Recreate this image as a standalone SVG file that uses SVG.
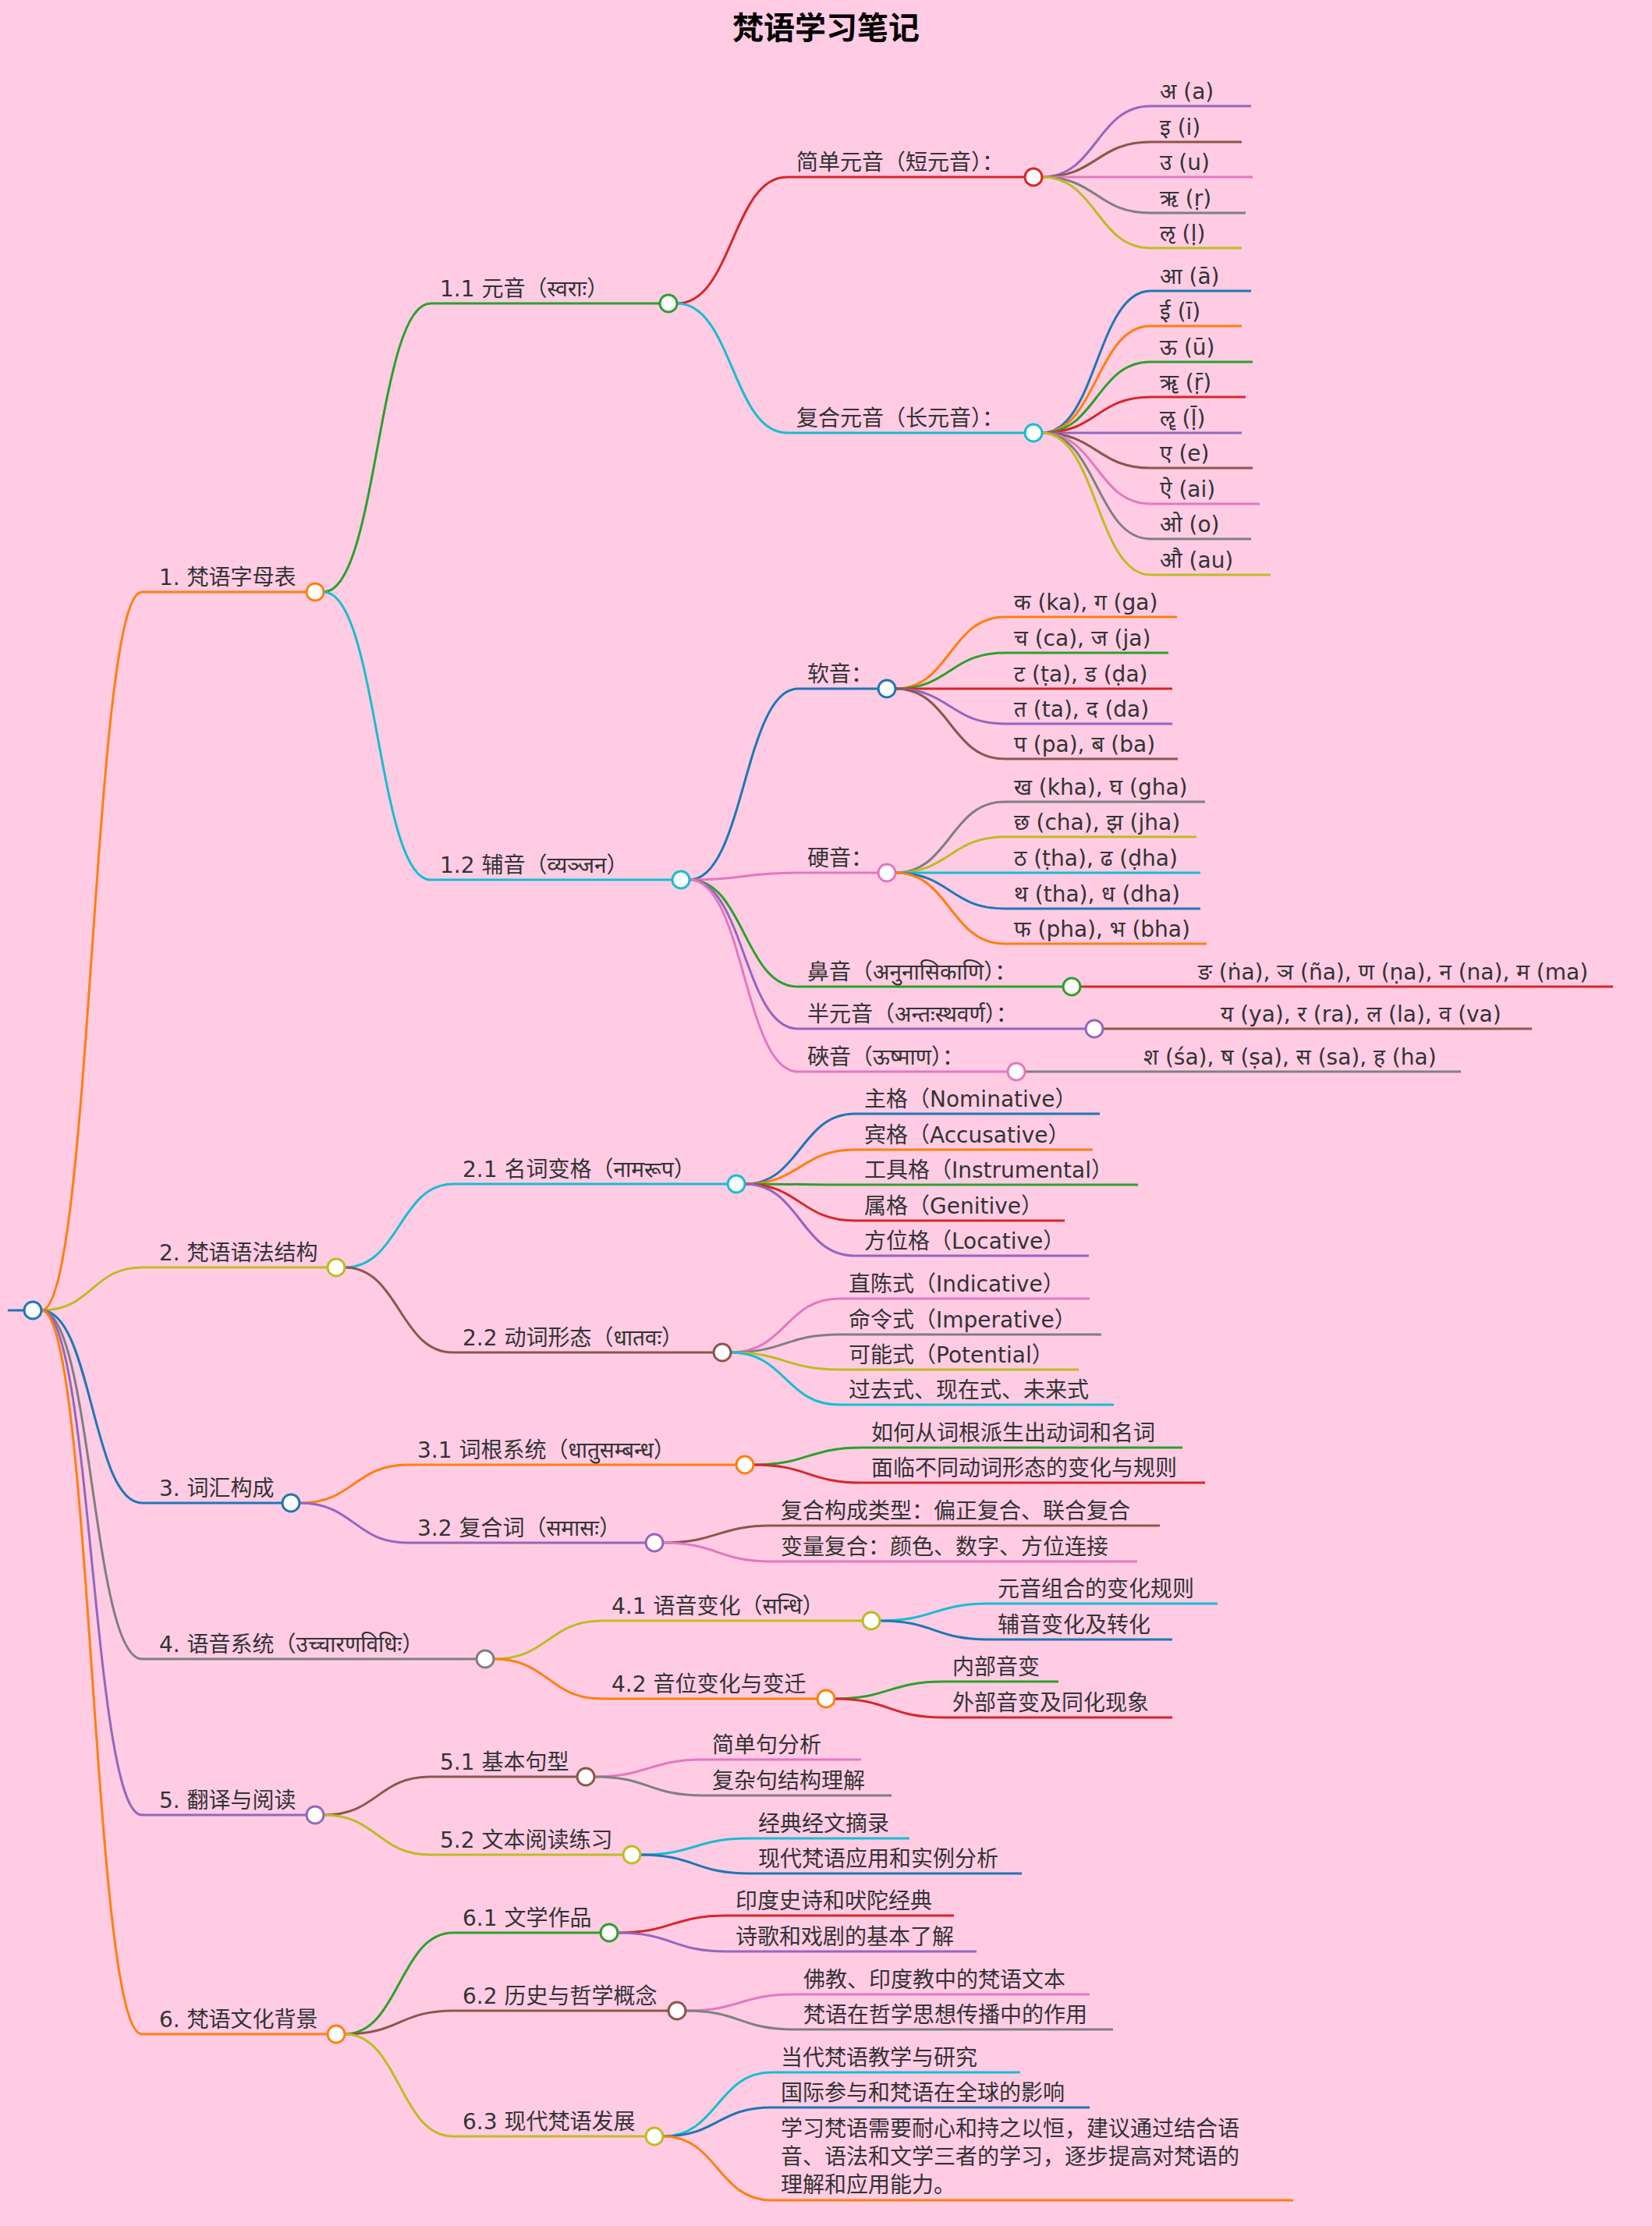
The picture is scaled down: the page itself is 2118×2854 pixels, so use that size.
<svg xmlns="http://www.w3.org/2000/svg" width="2118" height="2854" viewBox="0 0 2118 2854">
<style>
text{font-family:"DejaVu Sans","Noto Sans CJK SC","Noto Sans",sans-serif;font-size:28px;fill:#333}
.t{font-size:40px;font-weight:bold;fill:#000}
path{fill:none;stroke-width:3}
circle{fill:#fff;stroke-width:3}
.blue{stroke:#1f77b4}.orange{stroke:#ff7f0e}.green{stroke:#2ca02c}.red{stroke:#d62728}.purple{stroke:#9467bd}.brown{stroke:#8c564b}.pink{stroke:#e377c2}.grey{stroke:#7f7f7f}.olive{stroke:#bcbd22}.cyan{stroke:#17becf}
</style>
<rect width="2118" height="2854" fill="#ffcce4"/>
<text class="t" x="1059" y="50" text-anchor="middle">梵语学习笔记</text>
<g id="connectors">
<path class="blue" d="M10 1680 H31"/>
<path class="orange" d="M53 1680 C118 1680 118 759 182 759 H393"/>
<path class="olive" d="M53 1680 C118 1680 118 1625 182 1625 H420"/>
<path class="blue" d="M53 1680 C118 1680 118 1927 182 1927 H362"/>
<path class="grey" d="M53 1680 C118 1680 118 2127 182 2127 H611"/>
<path class="purple" d="M53 1680 C118 1680 118 2327 182 2327 H393"/>
<path class="orange" d="M53 1680 C118 1680 118 2608 182 2608 H420"/>
<path class="green" d="M415 759 C484 759 484 389 552 389 H846"/>
<path class="cyan" d="M415 759 C484 759 484 1128 552 1128 H862"/>
<path class="cyan" d="M442 1625 C512 1625 512 1518 581 1518 H933"/>
<path class="brown" d="M442 1625 C512 1625 512 1734 581 1734 H915"/>
<path class="orange" d="M384 1927 C454 1927 454 1878 523 1878 H944"/>
<path class="purple" d="M384 1927 C454 1927 454 1978 523 1978 H828"/>
<path class="olive" d="M633 2127 C703 2127 703 2078 772 2078 H1106"/>
<path class="orange" d="M633 2127 C703 2127 703 2178 772 2178 H1048"/>
<path class="brown" d="M415 2327 C484 2327 484 2278 552 2278 H740"/>
<path class="olive" d="M415 2327 C484 2327 484 2378 552 2378 H799"/>
<path class="green" d="M442 2608 C512 2608 512 2478 581 2478 H770"/>
<path class="brown" d="M442 2608 C512 2608 512 2578 581 2578 H857"/>
<path class="olive" d="M442 2608 C512 2608 512 2739 581 2739 H828"/>
<path class="red" d="M868 389 C939 389 939 227 1009 227 H1314"/>
<path class="cyan" d="M868 389 C939 389 939 555 1009 555 H1314"/>
<path class="blue" d="M884 1128 C954 1128 954 883 1023 883 H1126"/>
<path class="pink" d="M884 1128 C954 1128 954 1119 1023 1119 H1126"/>
<path class="green" d="M884 1128 C954 1128 954 1265 1023 1265 H1363"/>
<path class="purple" d="M884 1128 C954 1128 954 1319 1023 1319 H1392"/>
<path class="pink" d="M884 1128 C954 1128 954 1374 1023 1374 H1292"/>
<path class="purple" d="M1336 227 C1406 227 1406 136 1475 136 H1604"/>
<path class="brown" d="M1336 227 C1406 227 1406 182 1475 182 H1592"/>
<path class="pink" d="M1336 227 C1406 227 1406 227 1475 227 H1606"/>
<path class="grey" d="M1336 227 C1406 227 1406 273 1475 273 H1597"/>
<path class="olive" d="M1336 227 C1406 227 1406 318 1475 318 H1592"/>
<path class="blue" d="M1336 555 C1406 555 1406 373 1475 373 H1604"/>
<path class="orange" d="M1336 555 C1406 555 1406 418 1475 418 H1592"/>
<path class="green" d="M1336 555 C1406 555 1406 464 1475 464 H1606"/>
<path class="red" d="M1336 555 C1406 555 1406 509 1475 509 H1597"/>
<path class="purple" d="M1336 555 C1406 555 1406 555 1475 555 H1592"/>
<path class="brown" d="M1336 555 C1406 555 1406 600 1475 600 H1606"/>
<path class="pink" d="M1336 555 C1406 555 1406 646 1475 646 H1615"/>
<path class="grey" d="M1336 555 C1406 555 1406 691 1475 691 H1604"/>
<path class="olive" d="M1336 555 C1406 555 1406 737 1475 737 H1629"/>
<path class="orange" d="M1148 883 C1218 883 1218 791 1288 791 H1509"/>
<path class="green" d="M1148 883 C1218 883 1218 837 1288 837 H1498"/>
<path class="red" d="M1148 883 C1218 883 1218 883 1288 883 H1503"/>
<path class="purple" d="M1148 883 C1218 883 1218 928 1288 928 H1503"/>
<path class="brown" d="M1148 883 C1218 883 1218 973 1288 973 H1510"/>
<path class="grey" d="M1148 1119 C1218 1119 1218 1028 1288 1028 H1545"/>
<path class="olive" d="M1148 1119 C1218 1119 1218 1073 1288 1073 H1534"/>
<path class="cyan" d="M1148 1119 C1218 1119 1218 1119 1288 1119 H1539"/>
<path class="blue" d="M1148 1119 C1218 1119 1218 1165 1288 1165 H1539"/>
<path class="orange" d="M1148 1119 C1218 1119 1218 1210 1288 1210 H1547"/>
<path class="red" d="M1385 1265 H2068"/>
<path class="brown" d="M1414 1319 H1964"/>
<path class="grey" d="M1314 1374 H1873"/>
<path class="blue" d="M955 1518 C1026 1518 1026 1428 1096 1428 H1410"/>
<path class="orange" d="M955 1518 C1026 1518 1026 1474 1096 1474 H1401"/>
<path class="green" d="M955 1518 C1026 1518 1026 1519 1096 1519 H1459"/>
<path class="red" d="M955 1518 C1026 1518 1026 1565 1096 1565 H1365"/>
<path class="purple" d="M955 1518 C1026 1518 1026 1610 1096 1610 H1396"/>
<path class="pink" d="M937 1734 C1007 1734 1007 1665 1076 1665 H1397"/>
<path class="grey" d="M937 1734 C1007 1734 1007 1711 1076 1711 H1412"/>
<path class="olive" d="M937 1734 C1007 1734 1007 1756 1076 1756 H1383"/>
<path class="cyan" d="M937 1734 C1007 1734 1007 1801 1076 1801 H1428"/>
<path class="green" d="M966 1878 C1036 1878 1036 1856 1105 1856 H1516"/>
<path class="red" d="M966 1878 C1036 1878 1036 1901 1105 1901 H1545"/>
<path class="brown" d="M850 1978 C920 1978 920 1956 989 1956 H1487"/>
<path class="pink" d="M850 1978 C920 1978 920 2002 989 2002 H1458"/>
<path class="cyan" d="M1128 2078 C1198 2078 1198 2056 1267 2056 H1561"/>
<path class="blue" d="M1128 2078 C1198 2078 1198 2102 1267 2102 H1503"/>
<path class="green" d="M1070 2178 C1140 2178 1140 2156 1209 2156 H1357"/>
<path class="red" d="M1070 2178 C1140 2178 1140 2202 1209 2202 H1503"/>
<path class="pink" d="M762 2278 C832 2278 832 2256 901 2256 H1104"/>
<path class="grey" d="M762 2278 C832 2278 832 2302 901 2302 H1143"/>
<path class="cyan" d="M821 2378 C891 2378 891 2357 960 2357 H1166"/>
<path class="blue" d="M821 2378 C891 2378 891 2402 960 2402 H1310"/>
<path class="red" d="M792 2478 C862 2478 862 2456 931 2456 H1223"/>
<path class="purple" d="M792 2478 C862 2478 862 2502 931 2502 H1252"/>
<path class="pink" d="M879 2578 C949 2578 949 2557 1018 2557 H1397"/>
<path class="grey" d="M879 2578 C949 2578 949 2602 1018 2602 H1427"/>
<path class="cyan" d="M850 2739 C920 2739 920 2657 989 2657 H1308"/>
<path class="blue" d="M850 2739 C920 2739 920 2702 989 2702 H1397"/>
<path class="orange" d="M850 2739 C920 2739 920 2821 989 2821 H1658"/>
</g>
<g id="root"><circle class="blue" cx="42" cy="1680" r="11"/></g>
<g id="n1"><text x="204" y="750">1. 梵语字母表</text><circle class="orange" cx="404" cy="759" r="11"/></g>
<g id="n2"><text x="204" y="1616">2. 梵语语法结构</text><circle class="olive" cx="431" cy="1625" r="11"/></g>
<g id="n3"><text x="204" y="1918">3. 词汇构成</text><circle class="blue" cx="373" cy="1927" r="11"/></g>
<g id="n4"><text x="204" y="2118">4. 语音系统（उच्चारणविधिः）</text><circle class="grey" cx="622" cy="2127" r="11"/></g>
<g id="n5"><text x="204" y="2318">5. 翻译与阅读</text><circle class="purple" cx="404" cy="2327" r="11"/></g>
<g id="n6"><text x="204" y="2599">6. 梵语文化背景</text><circle class="orange" cx="431" cy="2608" r="11"/></g>
<g id="n11"><text x="564" y="380">1.1 元音（स्वराः）</text><circle class="green" cx="857" cy="389" r="11"/></g>
<g id="n12"><text x="564" y="1119">1.2 辅音（व्यञ्जन）</text><circle class="cyan" cx="873" cy="1128" r="11"/></g>
<g id="n21"><text x="593" y="1509">2.1 名词变格（नामरूप）</text><circle class="cyan" cx="944" cy="1518" r="11"/></g>
<g id="n22"><text x="593" y="1725">2.2 动词形态（धातवः）</text><circle class="brown" cx="926" cy="1734" r="11"/></g>
<g id="n31"><text x="535" y="1869">3.1 词根系统（धातुसम्बन्ध）</text><circle class="orange" cx="955" cy="1878" r="11"/></g>
<g id="n32"><text x="535" y="1969">3.2 复合词（समासः）</text><circle class="purple" cx="839" cy="1978" r="11"/></g>
<g id="n41"><text x="784" y="2069">4.1 语音变化（सन्धि）</text><circle class="olive" cx="1117" cy="2078" r="11"/></g>
<g id="n42"><text x="784" y="2169">4.2 音位变化与变迁</text><circle class="orange" cx="1059" cy="2178" r="11"/></g>
<g id="n51"><text x="564" y="2269">5.1 基本句型</text><circle class="brown" cx="751" cy="2278" r="11"/></g>
<g id="n52"><text x="564" y="2369">5.2 文本阅读练习</text><circle class="olive" cx="810" cy="2378" r="11"/></g>
<g id="n61"><text x="593" y="2469">6.1 文学作品</text><circle class="green" cx="781" cy="2478" r="11"/></g>
<g id="n62"><text x="593" y="2569">6.2 历史与哲学概念</text><circle class="brown" cx="868" cy="2578" r="11"/></g>
<g id="n63"><text x="593" y="2730">6.3 现代梵语发展</text><circle class="olive" cx="839" cy="2739" r="11"/></g>
<g id="n111"><text x="1021" y="218">简单元音（短元音）：</text><circle class="red" cx="1325" cy="227" r="11"/></g>
<g id="n112"><text x="1021" y="546">复合元音（长元音）：</text><circle class="cyan" cx="1325" cy="555" r="11"/></g>
<g id="n121"><text x="1035" y="874">软音：</text><circle class="blue" cx="1137" cy="883" r="11"/></g>
<g id="n122"><text x="1035" y="1110">硬音：</text><circle class="pink" cx="1137" cy="1119" r="11"/></g>
<g id="n123"><text x="1035" y="1256">鼻音（अनुनासिकाणि）：</text><circle class="green" cx="1374" cy="1265" r="11"/></g>
<g id="n124"><text x="1035" y="1310">半元音（अन्तःस्थवर्ण）：</text><circle class="purple" cx="1403" cy="1319" r="11"/></g>
<g id="n125"><text x="1035" y="1365">硤音（ऊष्माण）：</text><circle class="pink" cx="1303" cy="1374" r="11"/></g>
<g id="leaves">
<text x="1487" y="127">अ (a)</text>
<text x="1487" y="173">इ (i)</text>
<text x="1487" y="218">उ (u)</text>
<text x="1487" y="264">ऋ (ṛ)</text>
<text x="1487" y="309">ऌ (ḷ)</text>
<text x="1487" y="364">आ (ā)</text>
<text x="1487" y="409">ई (ī)</text>
<text x="1487" y="455">ऊ (ū)</text>
<text x="1487" y="500">ॠ (ṝ)</text>
<text x="1487" y="546">ॡ (ḹ)</text>
<text x="1487" y="591">ए (e)</text>
<text x="1487" y="637">ऐ (ai)</text>
<text x="1487" y="682">ओ (o)</text>
<text x="1487" y="728">औ (au)</text>
<text x="1300" y="782">क (ka), ग (ga)</text>
<text x="1300" y="828">च (ca), ज (ja)</text>
<text x="1300" y="874">ट (ṭa), ड (ḍa)</text>
<text x="1300" y="919">त (ta), द (da)</text>
<text x="1300" y="964">प (pa), ब (ba)</text>
<text x="1300" y="1019">ख (kha), घ (gha)</text>
<text x="1300" y="1064">छ (cha), झ (jha)</text>
<text x="1300" y="1110">ठ (ṭha), ढ (ḍha)</text>
<text x="1300" y="1156">थ (tha), ध (dha)</text>
<text x="1300" y="1201">फ (pha), भ (bha)</text>
<text x="1536" y="1256">ङ (ṅa), ञ (ña), ण (ṇa), न (na), म (ma)</text>
<text x="1565" y="1310">य (ya), र (ra), ल (la), व (va)</text>
<text x="1466" y="1365">श (śa), ष (ṣa), स (sa), ह (ha)</text>
<text x="1108" y="1419">主格（Nominative）</text>
<text x="1108" y="1465">宾格（Accusative）</text>
<text x="1108" y="1510">工具格（Instrumental）</text>
<text x="1108" y="1556">属格（Genitive）</text>
<text x="1108" y="1601">方位格（Locative）</text>
<text x="1088" y="1656">直陈式（Indicative）</text>
<text x="1088" y="1702">命令式（Imperative）</text>
<text x="1088" y="1747">可能式（Potential）</text>
<text x="1088" y="1792">过去式、现在式、未来式</text>
<text x="1117" y="1847">如何从词根派生出动词和名词</text>
<text x="1117" y="1892">面临不同动词形态的变化与规则</text>
<text x="1001" y="1947">复合构成类型：偏正复合、联合复合</text>
<text x="1001" y="1993">变量复合：颜色、数字、方位连接</text>
<text x="1279" y="2047">元音组合的变化规则</text>
<text x="1279" y="2093">辅音变化及转化</text>
<text x="1221" y="2147">内部音变</text>
<text x="1221" y="2193">外部音变及同化现象</text>
<text x="913" y="2247">简单句分析</text>
<text x="913" y="2293">复杂句结构理解</text>
<text x="972" y="2348">经典经文摘录</text>
<text x="972" y="2393">现代梵语应用和实例分析</text>
<text x="943" y="2447">印度史诗和吠陀经典</text>
<text x="943" y="2493">诗歌和戏剧的基本了解</text>
<text x="1030" y="2548">佛教、印度教中的梵语文本</text>
<text x="1030" y="2593">梵语在哲学思想传播中的作用</text>
<text x="1001" y="2648">当代梵语教学与研究</text>
<text x="1001" y="2693">国际参与和梵语在全球的影响</text>
<text x="1001" y="2739">学习梵语需要耐心和持之以恒，建议通过结合语</text>
<text x="1001" y="2775">音、语法和文学三者的学习，逐步提高对梵语的</text>
<text x="1001" y="2811">理解和应用能力。</text>
</g>
</svg>
